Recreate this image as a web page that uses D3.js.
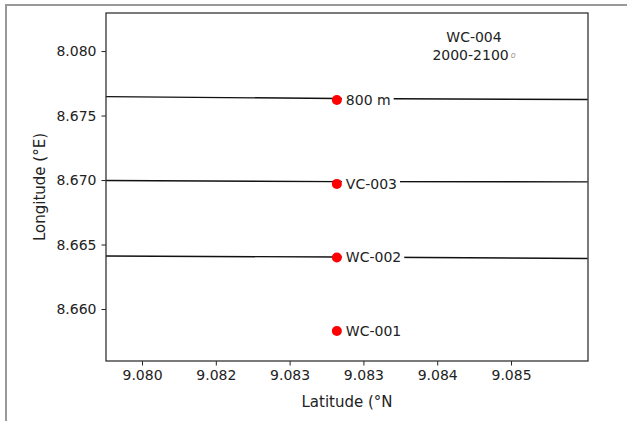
<!DOCTYPE html>
<html>
<head>
<meta charset="utf-8">
<script src="https://cdn.jsdelivr.net/npm/d3@7"></script>
<style>
  body { margin: 0; background: #fff; }
  svg text { font-family: "DejaVu Sans", sans-serif; fill: #222; }
</style>
</head>
<body>
<div id="chart"></div>
<script>
// tick values and the (odd) labels printed on them
const xTickValues = [9.0800, 9.0810, 9.0820, 9.0830, 9.0840, 9.0850];
const xTickLabels = ["9.080", "9.082", "9.083", "9.083", "9.084", "9.085"];
const yTickValues = [8.660, 8.665, 8.670, 8.675, 8.680];
const yTickLabels = ["8.660", "8.665", "8.670", "8.675", "8.080"];

// wells (red dots) and their labels
const wellLat = [9.08264, 9.08264, 9.08264, 9.08264];
const wellLon = [8.6762, 8.6697, 8.6640, 8.6583];
const wellNames = ["800 m", "VC-003", "WC-002", "WC-001"];

// contour lines: [lat, lon] points
const contours = [
  [[9.07951, 8.67647], [9.08264, 8.67632], [9.08604, 8.67624]],
  [[9.07951, 8.66996], [9.08264, 8.66988], [9.08604, 8.66986]],
  [[9.07951, 8.66411], [9.08264, 8.66403], [9.08604, 8.66392]]
];

const noteLines = ["WC-004", "2000-2100"];

const margin = { top: 13, right: 39, bottom: 60, left: 106 };
const W = 627, H = 421;
const width = W - margin.left - margin.right;
const height = H - margin.top - margin.bottom;

const svg = d3.select("#chart").append("svg")
    .attr("width", W)
    .attr("height", H);

// outer grey frame
svg.append("path")
    .attr("d", "M6,421V5H627")
    .attr("fill", "none")
    .attr("stroke", "#999")
    .attr("stroke-width", 2);

const g = svg.append("g")
    .attr("transform", "translate(" + margin.left + "," + margin.top + ")");

const x = d3.scaleLinear()
    .domain([9.079512, 9.086043])
    .range([0, width]);

const y = d3.scaleLinear()
    .domain([8.65597, 8.68295])
    .range([height, 0]);

const line = d3.line()
    .x(d => x(d[0]))
    .y(d => y(d[1]));

g.selectAll(".contour")
    .data(contours)
    .enter()
    .append("path")
        .attr("class", "contour")
        .attr("d", line)
        .attr("fill", "none")
        .attr("stroke", "#111")
        .attr("stroke-width", 1.4);

// labels with white box so the contour breaks around them
const labels = g.selectAll(".well-label")
    .data(wellNames)
    .enter()
    .append("g")
        .attr("class", "well-label");

labels.append("text")
    .attr("x", (d, i) => x(wellLat[i]) + 9)
    .attr("y", (d, i) => y(wellLon[i]))
    .attr("dy", "0.35em")
    .style("font-size", "14px")
    .text(d => d);

labels.insert("rect", "text")
    .each(function(d, i) {
        const bb = this.parentNode.querySelector("text").getBBox();
        d3.select(this)
            .attr("x", bb.x - 4)
            .attr("y", bb.y - 1)
            .attr("width", bb.width + 7)
            .attr("height", bb.height + 2)
            .attr("fill", "#fff");
    });

g.selectAll(".well")
    .data(wellNames)
    .enter()
    .append("circle")
        .attr("class", "well")
        .attr("cx", (d, i) => x(wellLat[i]))
        .attr("cy", (d, i) => y(wellLon[i]))
        .attr("r", 5)
        .attr("fill", "#f00");

// note in upper right
const note = g.append("text")
    .attr("x", 368)
    .attr("y", 29)
    .attr("text-anchor", "middle")
    .style("font-size", "14px");
note.append("tspan").attr("x", 368).text(noteLines[0]);
const l2 = note.append("tspan").attr("x", 368).attr("dy", "1.25em").text(noteLines[1]);
l2.append("tspan")
    .style("font-size", "8px")
    .style("font-style", "italic")
    .style("fill", "#999")
    .attr("dx", 2)
    .attr("dy", -2)
    .text("o");

// axes
const xAxis = g.append("g")
    .attr("transform", "translate(0," + height + ")")
    .call(d3.axisBottom(x)
        .tickValues(xTickValues)
        .tickFormat((d, i) => xTickLabels[i])
        .tickSize(4.5)
        .tickPadding(5));

const yAxis = g.append("g")
    .call(d3.axisLeft(y)
        .tickValues(yTickValues)
        .tickFormat((d, i) => yTickLabels[i])
        .tickSize(4.5)
        .tickPadding(5));

[xAxis, yAxis].forEach(a => {
    a.select(".domain").remove();
    a.selectAll("line").attr("stroke", "#222");
    a.selectAll("text").style("font-size", "14px").attr("fill", "#222");
});

// frame of the plot area
g.append("rect")
    .attr("width", width)
    .attr("height", height)
    .attr("fill", "none")
    .attr("stroke", "#333")
    .attr("stroke-width", 1.3);

svg.append("text")
    .attr("x", margin.left + width / 2)
    .attr("y", 407)
    .attr("text-anchor", "middle")
    .style("font-size", "15px")
    .text("Latitude (°N");

svg.append("text")
    .attr("transform", "translate(45," + (margin.top + height / 2) + ") rotate(-90)")
    .attr("text-anchor", "middle")
    .style("font-size", "15px")
    .text("Longitude (°E)");
</script>
</body>
</html>
